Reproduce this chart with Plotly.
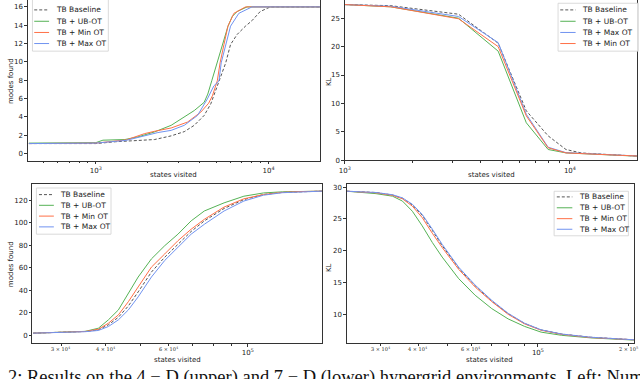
import plotly.graph_objects as go
import math

W, H = 640, 379

# ---------------- data ----------------
names_top_left = ["TB Baseline", "TB + UB-OT", "TB + Min OT", "TB + Max OT"]
names_top_right = ["TB Baseline", "TB + UB-OT", "TB + Max OT", "TB + Min OT"]
names_bottom = ["TB Baseline", "TB + UB-OT", "TB + Min OT", "TB + Max OT"]

# Top-left: 4-D hypergrid, modes found
tl_base_x = [410, 1000, 1300, 1800, 2188, 2730, 3253, 3715, 4240, 4630, 5050, 5650, 6025, 6580, 7350, 8015, 8950, 10240, 20000]
tl_base_y = [1.1, 1.1, 1.3, 1.45, 1.54, 1.94, 2.4, 3.09, 4.17, 5.43, 7.4, 9.9, 11.9, 13.0, 13.9, 14.5, 15.5, 16.0, 16.0]
tl_ub_x = [410, 1000, 1100, 1473, 1755, 2188, 2730, 3253, 3715, 4240, 4450, 4700, 5050, 5395, 5818, 6160, 6580, 7510, 20000]
tl_ub_y = [1.15, 1.2, 1.47, 1.54, 1.83, 2.37, 3.09, 3.99, 4.7, 5.6, 6.5, 8.0, 9.9, 11.9, 13.87, 14.95, 15.5, 16.0, 16.0]
tl_min_x = [410, 1000, 1500, 1919, 2188, 2730, 3400, 4055, 4500, 4730, 5050, 5240, 5520, 5818, 6300, 7350, 20000]
tl_min_y = [1.1, 1.15, 1.5, 2.19, 2.44, 2.8, 3.45, 4.53, 5.5, 6.3, 7.94, 9.9, 11.9, 13.9, 15.3, 16.0, 16.0]
tl_max_x = [410, 1000, 1500, 1919, 2286, 2730, 3253, 3883, 4425, 4830, 5165, 5320, 5650, 6025, 6730, 8015, 20000]
tl_max_y = [1.1, 1.15, 1.45, 1.94, 2.3, 2.54, 3.09, 4.17, 5.97, 7.4, 7.94, 9.9, 11.9, 13.9, 15.3, 16.0, 16.0]

# Top-right: 4-D hypergrid, KL
tr_x = [1000, 1600, 3200, 4800, 6400, 8000, 9600, 11200, 12800, 14400, 16000, 17600, 19860]
tr_base = [27.4, 27.2, 25.7, 20.6, 8.7, 4.3, 1.9, 1.3, 1.15, 1.0, 0.9, 0.85, 0.76]
tr_ub = [27.4, 27.0, 25.0, 19.2, 6.6, 1.9, 1.3, 1.15, 1.05, 0.95, 0.88, 0.82, 0.74]
tr_max = [27.4, 27.1, 25.3, 20.7, 8.1, 2.3, 1.35, 1.2, 1.08, 0.97, 0.9, 0.84, 0.76]
tr_min = [27.4, 27.0, 24.9, 20.0, 7.8, 2.2, 1.3, 1.18, 1.06, 0.96, 0.89, 0.83, 0.75]

# Bottom-left: 7-D hypergrid, modes found
bl_x = [25000, 30000, 35000, 38100, 40640, 43350, 46230, 49260, 53670, 58480, 63680, 69350, 75530, 85800, 97500, 110700, 125000, 140000, 162000]
bl_base = [2.0, 2.8, 3.5, 5.0, 9.4, 16.1, 26.1, 38.6, 56.2, 69.4, 81.0, 92.2, 101.6, 112.6, 120.5, 125.0, 126.9, 127.6, 128.0]
bl_ub = [2.0, 2.8, 3.6, 6.4, 13.8, 22.6, 37.1, 51.8, 67.9, 79.6, 89.8, 101.6, 110.4, 117.6, 123.5, 126.4, 127.4, 127.8, 128.0]
bl_min = [2.0, 2.8, 3.5, 5.5, 10.8, 18.2, 29.9, 43.0, 60.6, 72.3, 84.0, 94.2, 103.0, 113.9, 121.2, 125.0, 126.9, 127.6, 128.0]
bl_max = [2.0, 2.7, 3.3, 4.4, 7.9, 13.8, 22.6, 34.2, 51.8, 66.5, 78.1, 89.8, 98.6, 110.4, 119.2, 124.4, 126.6, 127.5, 128.0]

# Bottom-right: 7-D hypergrid, KL
br_x = [23100, 28900, 32800, 35400, 38200, 41200, 44500, 48000, 54500, 61800, 70200, 79600, 90300, 102500, 120000, 150000, 209000]
br_base = [29.35, 29.15, 28.75, 28.25, 27.2, 25.55, 23.2, 20.8, 17.25, 14.5, 12.1, 10.1, 8.55, 7.55, 6.9, 6.4, 6.0]
br_ub = [29.35, 28.97, 28.57, 27.8, 26.2, 23.9, 21.3, 19.0, 15.6, 13.0, 10.9, 9.28, 8.1, 7.2, 6.7, 6.3, 5.95]
br_min = [29.35, 29.1, 28.7, 28.15, 27.0, 25.2, 22.75, 20.5, 17.06, 14.3, 12.0, 10.0, 8.5, 7.5, 6.85, 6.35, 6.0]
br_max = [29.35, 29.15, 28.8, 28.3, 27.3, 25.7, 23.4, 21.0, 17.4, 14.6, 12.2, 10.16, 8.6, 7.57, 6.9, 6.4, 6.0]

caption = "2: Results on the 4 \u2212 D (upper) and 7 \u2212 D (lower) hypergrid environments. Left: Numb"

# ---------------- styles ----------------
STY = {
    "TB Baseline": dict(color="rgba(55,55,55,0.85)", dash="3px,2px", width=1),
    "TB + UB-OT": dict(color="#55b255", dash="solid", width=1),
    "TB + Min OT": dict(color="#ff7047", dash="solid", width=1),
    "TB + Max OT": dict(color="#7093f0", dash="solid", width=1),
}
TICKFONT = dict(family="DejaVu Sans", size=7, color="#222")
MINORFONT = dict(family="DejaVu Serif", size=5, color="#222")
AXCOL = "#333"


def px(x):
    return x / W


def py(y):
    return 1 - y / H


fig = go.Figure()


def add(xs, ys, name, n):
    fig.add_trace(go.Scatter(x=xs, y=ys, mode="lines", name=name, line=STY[name],
                             xaxis="x" + ("" if n == 1 else str(n)),
                             yaxis="y" + ("" if n == 1 else str(n)),
                             showlegend=False, hoverinfo="skip"))


add(tl_base_x, tl_base_y, "TB Baseline", 1)
add(tl_ub_x, tl_ub_y, "TB + UB-OT", 1)
add(tl_min_x, tl_min_y, "TB + Min OT", 1)
add(tl_max_x, tl_max_y, "TB + Max OT", 1)

add(tr_x, tr_base, "TB Baseline", 2)
add(tr_x, tr_ub, "TB + UB-OT", 2)
add(tr_x, tr_max, "TB + Max OT", 2)
add(tr_x, tr_min, "TB + Min OT", 2)

add(bl_x, bl_base, "TB Baseline", 3)
add(bl_x, bl_ub, "TB + UB-OT", 3)
add(bl_x, bl_min, "TB + Min OT", 3)
add(bl_x, bl_max, "TB + Max OT", 3)

add(br_x, br_base, "TB Baseline", 4)
add(br_x, br_ub, "TB + UB-OT", 4)
add(br_x, br_min, "TB + Min OT", 4)
add(br_x, br_max, "TB + Max OT", 4)


def sup(base, e):
    return f"{base}<sup>{e}</sup>"


def xax(dom, rng, tv, tt, minor_v, box, anchor):
    return dict(type="log", domain=dom, range=rng, tickmode="array", tickvals=tv, ticktext=tt,
                ticks="outside", ticklen=3, tickwidth=0.8, tickcolor=AXCOL, tickfont=TICKFONT,
                showgrid=False, zeroline=False, showline=True, linecolor=AXCOL, linewidth=0.8,
                mirror=box, anchor=anchor,
                minor=dict(tickmode="array", tickvals=minor_v, ticks="outside", ticklen=2,
                           tickwidth=0.6, tickcolor=AXCOL, showgrid=False))


def yax(dom, rng, tv, anchor):
    return dict(domain=dom, range=rng, tickmode="array", tickvals=tv, ticktext=[str(v) for v in tv],
                ticks="outside", ticklen=2.5, tickwidth=0.8, tickcolor=AXCOL, tickfont=TICKFONT,
                showgrid=False, zeroline=False, showline=True, linecolor=AXCOL, linewidth=0.8,
                mirror=True, anchor=anchor)


top_minor = [500, 600, 700, 800, 900, 2000, 3000, 4000, 5000, 6000, 7000, 8000, 9000, 20000]
bl_minor = [30000, 40000, 50000, 60000, 70000, 80000, 90000]
br_minor = [30000, 40000, 50000, 60000, 70000, 80000, 90000, 200000]

fig.update_layout(
    width=W, height=H, margin=dict(l=0, r=0, t=0, b=0),
    paper_bgcolor="white", plot_bgcolor="white",
    xaxis=xax([px(22), px(317)], [math.log10(404), 4.298], [1000, 10000], [sup(10, 3), sup(10, 4)], top_minor, False, "y"),
    yaxis=yax([py(162.3), 1], [-0.755, 16.755], [0, 2, 4, 6, 8, 10, 12, 14, 16], "x"),
    xaxis2=xax([px(342), px(637)], [3, 4.298], [1000, 10000], [sup(10, 3), sup(10, 4)], top_minor, False, "y2"),
    yaxis2=yax([py(162), 1], [0, 28.2], [0, 5, 10, 15, 20, 25], "x2"),
    xaxis3=xax([px(26.7), px(319.3)], [4.396, 5.209], [100000], [sup(10, 5)], bl_minor, True, "y3"),
    yaxis3=yax([py(346.7), py(186)], [-6.76, 134.3], [0, 20, 40, 60, 80, 100, 120], "x3"),
    xaxis4=xax([px(344), px(634)], [math.log10(23100), math.log10(209000)], [100000], [sup(10, 5)],
               br_minor, True, "y4"),
    yaxis4=yax([py(346.3), py(186)], [5.55, 30.48], [10, 15, 20, 25, 30], "x4"),
)

# minor tick labels of the bottom log axes (mathtext-style, small serif)
for ax, vals in [("x3", [30000, 40000, 60000]), ("x4", [30000, 40000, 60000, 200000])]:
    for v in vals:
        e = int(math.floor(math.log10(v)))
        m = int(round(v / 10 ** e))
        fig.add_annotation(x=math.log10(v), y=py(352.5), xref=ax, yref="paper",
                           text=f"{m} \u00d7 10<sup>{e}</sup>", showarrow=False,
                           xanchor="center", yanchor="middle", font=MINORFONT)

# axis labels
LBLFONT = dict(family="DejaVu Sans", size=7, color="#222")
for (x, y, t, rot) in [
    (5, 82, "modes found", -90), (326, 82, "KL", -90),
    (5, 267, "modes found", -90), (326, 270, "KL", -90),
    (169, 177, "states visited", 0), (490, 177, "states visited", 0),
    (173, 363.5, "states visited", 0), (488, 363.5, "states visited", 0),
]:
    fig.add_annotation(x=px(x), y=py(y), xref="paper", yref="paper", text=t, showarrow=False,
                       textangle=rot, font=LBLFONT, xanchor="center", yanchor="middle")


# legends (drawn manually so that their compact matplotlib spacing can be kept)
def legend(box, rows_y, line_x0, line_x1, text_x, names):
    x0, y0, x1, y1 = box
    fig.add_shape(type="rect", xref="paper", yref="paper", x0=px(x0), x1=px(x1), y0=py(y1), y1=py(y0),
                  line=dict(color="#d0d0d0", width=0.8), fillcolor="rgba(255,255,255,0.85)", layer="above")
    for yy, n in zip(rows_y, names):
        st = STY[n]
        fig.add_shape(type="line", xref="paper", yref="paper", x0=px(line_x0), x1=px(line_x1),
                      y0=py(yy), y1=py(yy), line=dict(color=st["color"], width=1, dash=st["dash"]), layer="above")
        fig.add_annotation(x=px(text_x), y=py(yy), xref="paper", yref="paper", text=n, showarrow=False,
                           xanchor="left", yanchor="middle", font=dict(family="DejaVu Sans", size=7.5, color="#222"))


legend((26.7, -2, 103.3, 51.7), [10, 21.5, 32.8, 44], 28.5, 43.5, 48, names_top_left)
legend((557.3, 3.3, 638.3, 51.7), [10, 21.5, 32.8, 44], 559.5, 575, 579.5, names_top_right)
legend((30.7, 190, 106, 236.7), [196.7, 207.5, 218.4, 229.3], 33.3, 48.3, 52.5, names_bottom)
legend((553.3, 193.3, 628.3, 238.3), [199, 210, 221, 231.7], 556, 571.7, 576, names_bottom)

# caption (partly cut off at the bottom of the picture)
fig.add_annotation(x=0, y=py(369), xref="paper", yref="paper", text=caption, showarrow=False,
                   xanchor="left", yanchor="top", font=dict(family="Liberation Serif", size=18.5, color="#111"))

fig.write_html("out.html", config={"displayModeBar": False},
               post_script="document.body.style.margin='0';")
